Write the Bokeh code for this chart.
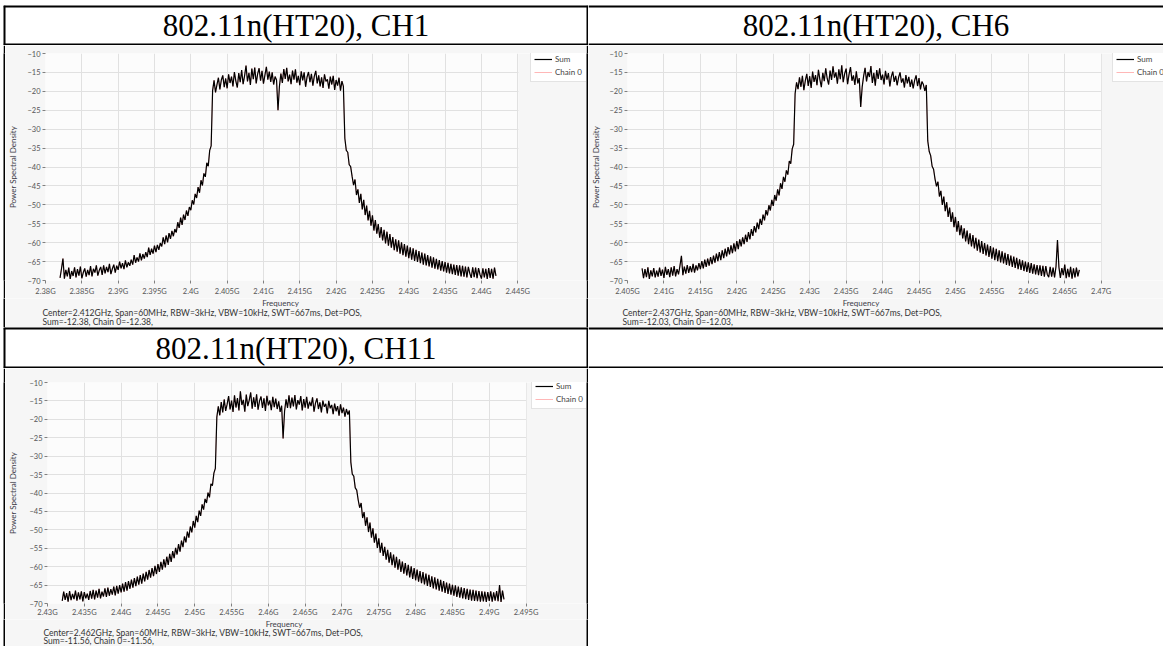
import numpy as np
from bokeh.plotting import figure
from bokeh.models import Range1d, FixedTicker, Legend, LegendItem, Label, Span, Spacer, BoxAnnotation
from bokeh.layouts import column, row
from bokeh.embed import file_html
from bokeh.resources import INLINE

# ---------------- data ----------------
header_ch1 = "802.11n(HT20), CH1"
header_ch6 = "802.11n(HT20), CH6"
header_ch11 = "802.11n(HT20), CH11"

span_mhz = 60
ch1_center_mhz = 2412
ch6_center_mhz = 2437
ch11_center_mhz = 2462

psd_ticks = [-10, -15, -20, -25, -30, -35, -40, -45, -50, -55, -60, -65, -70]

ch1_freq_ticks = [2380, 2385, 2390, 2395, 2400, 2405, 2410, 2415, 2420, 2425, 2430, 2435, 2440, 2445]
ch1_freq_labels = ["2.38G", "2.385G", "2.39G", "2.395G", "2.4G", "2.405G", "2.41G", "2.415G",
                   "2.42G", "2.425G", "2.43G", "2.435G", "2.44G", "2.445G"]
ch6_freq_ticks = [2405, 2410, 2415, 2420, 2425, 2430, 2435, 2440, 2445, 2450, 2455, 2460, 2465, 2470]
ch6_freq_labels = ["2.405G", "2.41G", "2.415G", "2.42G", "2.425G", "2.43G", "2.435G", "2.44G",
                   "2.445G", "2.45G", "2.455G", "2.46G", "2.465G", "2.47G"]
ch11_freq_ticks = [2430, 2435, 2440, 2445, 2450, 2455, 2460, 2465, 2470, 2475, 2480, 2485, 2490, 2495]
ch11_freq_labels = ["2.43G", "2.435G", "2.44G", "2.445G", "2.45G", "2.455G", "2.46G", "2.465G",
                    "2.47G", "2.475G", "2.48G", "2.485G", "2.49G", "2.495G"]

x_title = "Frequency"
y_title = "Power Spectral Density"

ch1_info = ["Center=2.412GHz,  Span=60MHz,  RBW=3kHz,  VBW=10kHz,  SWT=667ms,  Det=POS,",
            "Sum=-12.38, Chain 0=-12.38,"]
ch6_info = ["Center=2.437GHz,  Span=60MHz,  RBW=3kHz,  VBW=10kHz,  SWT=667ms,  Det=POS,",
            "Sum=-12.03, Chain 0=-12.03,"]
ch11_info = ["Center=2.462GHz,  Span=60MHz,  RBW=3kHz,  VBW=10kHz,  SWT=667ms,  Det=POS,",
             "Sum=-11.56, Chain 0=-11.56,"]

series_names = ["Sum", "Chain 0"]

# power spectral density (dB), sweep points evenly across the 60 MHz span
ch1_psd = [
    # lower skirt
    -69.3, -66.9, -64.2, -69.5, -67.2, -68.9, -66.6, -69.6, -67.5, -68.8,
    -66.5, -69.2, -67.0, -68.7, -66.3, -69.4, -67.9, -66.8, -69.0, -67.2,
    -68.6, -66.2, -68.9, -66.9, -67.9, -66.0, -68.7, -67.3, -66.4, -68.5,
    -66.0, -68.1, -66.4, -67.8, -65.6, -68.3, -66.9, -65.8, -67.9, -66.1,
    -67.2, -65.0, -66.8, -65.4, -67.0, -64.7, -66.5, -65.2, -66.1, -64.5,
    -65.8, -63.3, -65.3, -63.9, -65.0, -62.8, -64.7, -63.0, -64.2, -62.5,
    -63.8, -61.3, -63.2, -61.6, -62.9, -60.8, -62.5, -60.6, -61.9, -60.1,
    -61.0, -58.6, -60.4, -58.1, -59.9, -57.5, -59.0, -56.9, -58.3, -56.4,
    -57.3, -54.6, -56.1, -53.4, -55.3, -52.6, -54.0, -51.5, -52.9, -50.6,
    -51.4, -48.8, -49.9, -47.1, -48.2, -45.3, -46.8, -43.5, -44.9, -41.7,
    -42.6, -38.9, -39.8, -35.6, -34.4,
    # occupied channel
    -19.8, -17.1, -20.3, -18.2, -16.4, -19.5, -17.0, -15.8, -18.9, -16.6,
    -19.2, -15.5, -17.8, -16.1, -18.7, -14.9, -17.3, -19.0, -15.2, -17.6,
    -14.4, -18.1, -15.9, -13.2, -17.4, -15.1, -18.3, -14.0, -16.8, -13.7,
    -17.9, -15.4, -13.9, -17.2, -14.6, -18.0, -15.7, -13.5, -16.9, -14.8,
    -17.5, -15.0, -18.2, -16.1, -17.0, -25.0, -18.6, -15.3, -17.8, -14.1,
    -16.7, -13.8, -17.4, -15.6, -18.1, -14.5, -16.9, -14.2, -17.7, -15.9,
    -18.4, -14.7, -17.1, -15.0, -18.8, -16.2, -14.9, -17.6, -15.4, -18.5,
    -16.0, -14.6, -17.9, -15.8, -18.7, -16.3, -19.1, -15.5, -17.4, -16.8,
    -19.3, -16.1, -18.2, -15.9, -19.6, -17.0, -18.5, -16.4, -19.8, -17.3,
    -18.7,
    # upper skirt
    -32.4, -35.6, -36.1, -39.4, -39.9, -42.5, -44.8, -43.3, -47.4, -45.9,
    -49.5, -47.1, -51.2, -48.7, -52.7, -50.2, -54.1, -51.6, -55.5, -52.8,
    -56.8, -54.0, -57.6, -55.1, -58.7, -55.9, -59.4, -56.6, -60.2, -57.1,
    -60.8, -57.7, -61.3, -58.5, -62.0, -59.1, -62.4, -59.4, -62.9, -59.9,
    -63.3, -60.4, -63.7, -60.8, -64.1, -61.2, -64.5, -61.5, -64.8, -61.9,
    -65.1, -62.2, -65.4, -62.6, -65.8, -62.9, -66.0, -63.3, -66.3, -63.6,
    -66.6, -63.9, -66.9, -64.3, -67.1, -64.6, -67.4, -64.9, -67.6, -65.1,
    -67.9, -65.3, -68.1, -65.6, -68.3, -65.8, -68.5, -65.9, -68.7, -66.0,
    -68.9, -66.1, -69.0, -66.3, -69.2, -66.4, -68.1, -69.3, -66.5, -69.1,
    -66.6, -69.4, -66.7, -68.4, -69.5, -66.8, -69.2, -66.9, -69.6, -66.7,
    -69.3, -66.9, -69.5, -66.6, -68.8,
]
ch6_psd = [
    -66.8, -69.4, -67.0, -69.1, -66.5, -69.6, -67.3, -68.9, -66.7, -69.2,
    -67.4, -69.0, -66.6, -68.8, -67.1, -69.3, -66.4, -68.5, -67.0, -69.1,
    -66.5, -68.7, -66.2, -68.9, -67.0, -68.4, -66.1, -63.5, -68.6, -66.3,
    -68.2, -65.9, -68.0, -66.2, -67.8, -65.6, -67.9, -66.0, -67.3, -65.4,
    -67.0, -64.9, -66.8, -64.5, -66.4, -64.2, -66.1, -63.8, -65.7, -63.4,
    -65.3, -62.9, -64.9, -62.5, -64.6, -62.0, -64.1, -61.6, -63.6, -61.2,
    -63.1, -60.7, -62.8, -60.2, -62.3, -59.6, -61.7, -59.1, -61.0, -58.6,
    -60.4, -57.9, -59.8, -57.2, -59.1, -56.4, -58.2, -55.6, -57.3, -54.7,
    -56.4, -53.7, -55.3, -52.6, -54.1, -51.4, -52.8, -50.1, -51.5, -48.7,
    -50.3, -47.4, -48.9, -45.9, -47.5, -44.3, -45.8, -42.6, -43.9, -40.9,
    -42.0, -38.4, -39.1, -35.2, -34.0,
    -20.6, -17.6, -19.4, -16.3, -18.8, -15.9, -19.7, -17.2, -15.4, -18.6,
    -16.0, -19.1, -14.8, -17.5, -15.7, -18.4, -14.3, -16.9, -18.9, -15.1,
    -17.3, -13.9, -16.6, -18.2, -14.5, -17.0, -13.4, -16.4, -15.0, -18.0,
    -14.2, -16.8, -13.1, -17.6, -15.3, -14.0, -18.1, -15.5, -13.6, -17.2,
    -15.8, -18.3, -14.7, -17.9, -16.5, -24.1, -18.9, -16.0, -13.8, -17.4,
    -14.9, -16.2, -13.3, -17.8, -15.1, -18.5, -14.4, -16.7, -13.9, -17.0,
    -15.6, -18.2, -14.6, -16.9, -15.2, -18.7, -16.1, -14.8, -17.5, -15.9,
    -18.4, -16.3, -15.0, -17.7, -16.6, -19.0, -15.7, -17.9, -16.2, -18.8,
    -16.9, -19.2, -17.1, -15.8, -18.6, -16.5, -19.5, -17.4, -18.2, -19.9,
    -18.3,
    -33.1, -35.9, -37.0, -39.8, -40.6, -43.2, -45.1, -43.9, -47.8, -46.3,
    -50.0, -47.8, -51.7, -49.3, -53.2, -50.7, -54.5, -52.0, -55.9, -53.2,
    -57.1, -54.3, -58.0, -55.4, -58.9, -56.2, -59.7, -56.8, -60.4, -57.5,
    -61.0, -58.0, -61.5, -58.7, -62.1, -59.2, -62.6, -59.6, -63.0, -60.1,
    -63.4, -60.5, -63.8, -60.9, -64.2, -61.3, -64.6, -61.6, -64.9, -62.0,
    -65.2, -62.3, -65.5, -62.7, -65.9, -63.0, -66.1, -63.4, -66.4, -63.7,
    -66.7, -64.0, -67.0, -64.4, -67.2, -64.7, -67.5, -65.0, -67.7, -65.2,
    -68.0, -65.4, -68.2, -65.7, -68.4, -65.9, -68.6, -66.0, -68.8, -66.1,
    -69.0, -66.2, -68.4, -69.1, -66.4, -69.0, -66.6, -69.2, -66.3, -59.3,
    -66.5, -69.3, -66.7, -68.6, -65.8, -69.4, -66.9, -69.1, -66.4, -69.5,
    -66.8, -69.2, -66.6, -68.9, -67.2,
]
ch11_psd = [
    -69.3, -66.8, -69.0, -67.2, -69.5, -66.6, -69.1, -67.4, -68.8, -66.5,
    -69.2, -67.0, -68.9, -66.7, -69.4, -66.9, -68.6, -67.3, -69.0, -66.6,
    -68.7, -66.3, -68.9, -66.5, -68.4, -66.0, -68.6, -66.8, -68.1, -65.9,
    -68.2, -65.7, -67.9, -66.1, -67.6, -65.4, -67.8, -65.2, -67.3, -65.0,
    -67.0, -64.6, -66.8, -64.2, -66.5, -63.9, -66.0, -63.5, -65.7, -63.1,
    -65.3, -62.7, -64.9, -62.3, -64.6, -61.9, -64.0, -61.4, -63.5, -60.9,
    -63.0, -60.4, -62.6, -59.8, -62.0, -59.3, -61.4, -58.7, -60.8, -58.0,
    -60.2, -57.3, -59.5, -56.5, -58.7, -55.8, -57.7, -54.9, -56.7, -53.9,
    -55.9, -52.9, -54.7, -51.8, -53.4, -50.5, -52.1, -49.1, -50.7, -47.6,
    -49.4, -46.2, -47.9, -44.8, -46.2, -43.1, -44.5, -41.6, -42.7, -39.9,
    -41.2, -37.5, -38.0, -34.6, -33.3,
    -19.4, -16.5, -18.9, -15.3, -18.1, -14.6, -17.7, -15.9, -13.7, -17.3,
    -14.9, -18.0, -13.5, -16.8, -14.2, -17.6, -12.4, -16.1, -14.7, -17.9,
    -13.3, -16.4, -14.8, -12.7, -17.1, -14.0, -16.6, -13.2, -17.4, -15.0,
    -13.8, -16.9, -14.3, -17.7, -13.6, -16.2, -14.9, -17.5, -13.9, -16.7,
    -14.4, -17.2, -15.1, -18.0, -16.3, -25.2, -17.8, -14.6, -16.9, -13.5,
    -17.0, -14.1, -16.5, -13.4, -17.3, -14.8, -16.0, -13.7, -17.6, -14.5,
    -16.8, -13.9, -17.1, -15.2, -16.4, -14.0, -17.9, -15.6, -14.3, -17.2,
    -15.4, -18.1, -14.9, -16.6, -15.8, -18.4, -15.0, -17.0, -16.1, -18.6,
    -15.7, -17.8, -16.4, -19.0, -15.9, -18.3, -16.8, -19.3, -17.2, -18.7,
    -17.6,
    -31.6, -34.9, -35.4, -38.6, -39.2, -41.9, -44.0, -42.7, -46.8, -45.2,
    -48.9, -46.6, -50.6, -48.0, -52.1, -49.6, -53.5, -51.0, -54.9, -52.3,
    -56.2, -53.5, -57.1, -54.6, -58.1, -55.4, -58.9, -56.1, -59.6, -56.7,
    -60.3, -57.3, -60.8, -58.0, -61.4, -58.6, -61.9, -59.0, -62.4, -59.5,
    -62.9, -59.9, -63.3, -60.4, -63.7, -60.8, -64.1, -61.2, -64.5, -61.5,
    -64.8, -61.9, -65.2, -62.2, -65.5, -62.6, -65.9, -62.9, -66.2, -63.3,
    -66.5, -63.6, -66.8, -63.9, -67.1, -64.3, -67.4, -64.6, -67.6, -64.9,
    -67.9, -65.1, -68.2, -65.4, -68.4, -65.6, -68.6, -65.8, -68.8, -66.0,
    -69.0, -66.2, -69.2, -66.3, -69.3, -66.5, -69.4, -66.6, -69.5, -66.7,
    -69.4, -66.8, -69.6, -66.9, -69.3, -66.7, -69.5, -67.0, -69.2, -66.6,
    -69.4, -65.0, -69.6, -66.5, -68.9,
]

# ---------------- styling ----------------
UI_FONT = "Lato"
SERIF = "Liberation Serif"
CHART_BG = "#f6f6f6"
LEGEND_H = 31


def sweep(center, psd):
    return center + np.linspace(-span_mhz / 2, span_mhz / 2, len(psd))


def bare(w, h, fill):
    p = figure(width=w, height=h, toolbar_location=None, output_backend="svg",
               min_border=0, x_axis_type=None, y_axis_type=None,
               x_range=Range1d(0, w), y_range=Range1d(h, 0))
    p.background_fill_color = fill
    p.border_fill_color = fill
    p.outline_line_color = None
    return p


def vbar(h):
    return bare(2, h, "black")


def header(w, h, text, left=False, right=False):
    p = bare(w, h, "white")
    edges = [("width", 0), ("width", h)]
    if left:
        edges.append(("height", 0))
    if right:
        edges.append(("height", w))
    for dim, loc in edges:
        p.add_layout(Span(location=loc, dimension=dim, line_color="black", line_width=4))
    if text:
        p.add_layout(Label(x=w / 2, y=h / 2, text=text, text_align="center", text_baseline="middle",
                           text_font=SERIF, text_font_size="31px", text_color="black"))
    return p


def info_panel(w, h, x0, x_mid, ys, lines):
    # axis title "Frequency" (centred under the plot area) and the two measurement lines
    p = bare(w, h, CHART_BG)
    p.add_layout(Label(x=x_mid, y=ys[0], text=x_title, text_baseline="middle", text_align="center",
                       text_font=UI_FONT, text_font_size="8px", text_color="#3c3c48"))
    for yy, line in zip(ys[1:], lines):
        p.add_layout(Label(x=x0, y=yy, text=line, text_baseline="middle", text_align="left",
                           text_font=UI_FONT, text_font_size="8.5px", text_color="#333333"))
    return p


def spectrum(width, left, data_w, top, frame_h, bottom, freq_ticks, freq_labels,
             freq, psd, y_label_standoff, tick_standoff, legend_dx, legend_label_w):
    # the plot area keeps the graph's own right margin, where the legend sits
    right_px = width - left - data_w
    f0, f1 = freq_ticks[0], freq_ticks[-1]
    x_end = f1 + right_px / data_w * (f1 - f0)
    p = figure(width=width, height=top + frame_h + bottom,
               x_range=Range1d(f0, x_end),
               y_range=Range1d(psd_ticks[-1], psd_ticks[0]),
               toolbar_location=None, output_backend="svg",
               min_border_left=left, min_border_right=0,
               min_border_top=top, min_border_bottom=bottom)
    p.border_fill_color = CHART_BG
    p.background_fill_color = "#fcfcfc"
    p.outline_line_color = None

    xt = FixedTicker(ticks=freq_ticks)
    yt = FixedTicker(ticks=psd_ticks)
    p.xaxis.ticker = xt
    p.xgrid.ticker = xt
    p.yaxis.ticker = yt
    p.ygrid.ticker = yt
    p.xaxis.major_label_overrides = dict(zip(freq_ticks, freq_labels))
    p.grid.grid_line_color = "#e1e1e1"

    # margin right of the last frequency tick belongs to the graph background
    px = (f1 - f0) / data_w
    p.add_layout(BoxAnnotation(left=f1 + 0.6 * px, fill_color=CHART_BG, fill_alpha=1.0,
                               line_color=None, level="underlay"))

    p.axis.axis_line_color = None
    p.axis.major_tick_line_color = "#808080"
    p.axis.major_tick_in = 0
    p.axis.major_tick_out = 3
    p.axis.minor_tick_line_color = None
    p.axis.major_label_text_font = UI_FONT
    p.axis.major_label_text_font_size = "7.5px"
    p.axis.major_label_text_color = "#555555"
    p.yaxis.major_label_standoff = 2
    p.xaxis.major_label_standoff = tick_standoff
    p.yaxis.axis_label = y_title
    p.yaxis.axis_label_text_font = UI_FONT
    p.yaxis.axis_label_text_font_size = "8px"
    p.yaxis.axis_label_text_font_style = "normal"
    p.yaxis.axis_label_text_color = "#3c3c48"
    p.yaxis.axis_label_standoff = y_label_standoff

    # single-chain capture: Chain 0 equals Sum and lies under it
    r_chain = p.line(freq, psd, line_color="#ff6e6e", line_width=0.5)
    r_sum = p.line(freq, psd, line_color="black", line_width=1.2)

    legend = Legend(items=[LegendItem(label=series_names[0], renderers=[r_sum]),
                           LegendItem(label=series_names[1], renderers=[r_chain])],
                    location=(data_w + legend_dx, frame_h - LEGEND_H))
    legend.padding = 3
    legend.spacing = 1
    legend.margin = 0
    legend.glyph_width = 18
    legend.glyph_height = 12
    legend.label_height = 12
    legend.label_width = legend_label_w
    legend.label_standoff = 3
    legend.label_text_font = UI_FONT
    legend.label_text_font_size = "8px"
    legend.label_text_color = "#444444"
    legend.border_line_color = "#c8c8c8"
    legend.background_fill_color = "white"
    legend.background_fill_alpha = 1.0
    p.add_layout(legend)
    return p


# ---------------- layout (table of three captured graphs) ----------------
W_L, W_R = 581, 575
H_HEAD1, H_ROW1, H_HEAD2, H_ROW2 = 40, 282, 41, 278

c1 = spectrum(W_L, 38, 474, 8, 229, 16, ch1_freq_ticks, ch1_freq_labels,
              sweep(ch1_center_mhz, ch1_psd), ch1_psd, 6, 3, 11, 30)
c6 = spectrum(W_R, 33, 479, 8, 229, 16, ch6_freq_ticks, ch6_freq_labels,
              sweep(ch6_center_mhz, ch6_psd), ch6_psd, 5, 3, 6, 27)
H_INFO1 = H_ROW1 - c1.height
c1_info = info_panel(W_L, H_INFO1, 37, 38 + 474 / 2, [4.5, 14, 23], ch1_info)
c6_info = info_panel(W_R, H_INFO1, 34, 33 + 479 / 2, [4.5, 14, 23], ch6_info)

c11 = spectrum(W_L, 37, 483, 14, 225, 12, ch11_freq_ticks, ch11_freq_labels,
               sweep(ch11_center_mhz, ch11_psd), ch11_psd, 8, 1, 1, 27)
H_INFO2 = H_ROW2 - c11.height
c11_info = info_panel(W_L, H_INFO2, 38, 37 + 483 / 2, [4, 13, 21.5], ch11_info)

page = column(
    Spacer(width=10, height=5),
    row(Spacer(width=3, height=H_HEAD1),
        header(W_L + 4, H_HEAD1, header_ch1, left=True, right=True),
        header(W_R, H_HEAD1, header_ch6)),
    row(Spacer(width=3, height=c1.height), vbar(c1.height), c1, vbar(c1.height), c6),
    row(Spacer(width=3, height=H_INFO1), vbar(H_INFO1), c1_info, vbar(H_INFO1), c6_info),
    row(Spacer(width=3, height=H_HEAD2),
        header(W_L + 4, H_HEAD2, header_ch11, left=True, right=True),
        header(W_R, H_HEAD2, "")),
    row(Spacer(width=3, height=c11.height), vbar(c11.height), c11, vbar(c11.height)),
    row(Spacer(width=3, height=H_INFO2), vbar(H_INFO2), c11_info, vbar(H_INFO2)),
)

open("out.html", "w").write(file_html(page, INLINE))
